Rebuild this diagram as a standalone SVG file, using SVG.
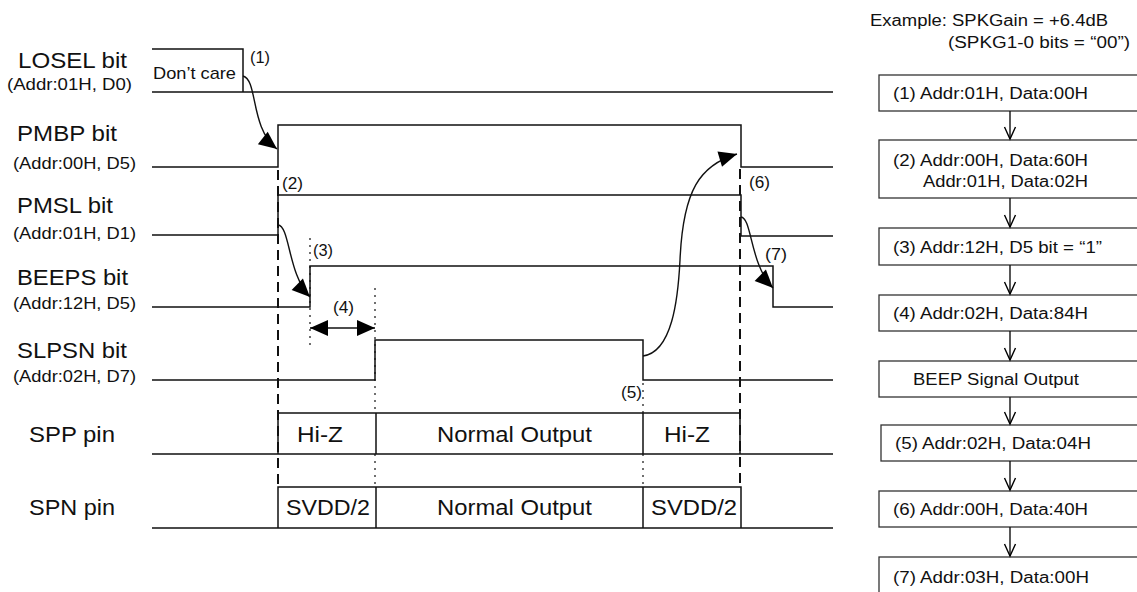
<svg xmlns="http://www.w3.org/2000/svg" width="1137" height="592" viewBox="0 0 1137 592">
<style>
text{font-family:"Liberation Sans",Arial,sans-serif;fill:#111}
.big{font-size:22px}
.sub{font-size:16px}
.num{font-size:16px}
.fc{font-size:16px}
.w{fill:none;stroke:#111;stroke-width:1.5}
.dash{fill:none;stroke:#111;stroke-width:2;stroke-dasharray:10 6}
.dot{fill:none;stroke:#111;stroke-width:1.2;stroke-dasharray:2 5}
.box{fill:#fff;stroke:#333;stroke-width:1.3}
.cur{fill:none;stroke:#111;stroke-width:1.4}
.farr{fill:none;stroke:#111;stroke-width:1.4}
</style>
<defs>
<marker id="ah" viewBox="0 0 18 16" refX="18" refY="8" markerWidth="18" markerHeight="16" markerUnits="userSpaceOnUse" orient="auto-start-reverse" overflow="visible"><path d="M0,0 L18,8 L0,16 z" fill="#000"/></marker>
<marker id="va" viewBox="0 0 12 12" refX="12" refY="6" markerWidth="12" markerHeight="12" markerUnits="userSpaceOnUse" orient="auto" overflow="visible"><path d="M0,0.5 L12,6 L0,11.5" fill="none" stroke="#000" stroke-width="1.4"/></marker>
</defs>
<rect width="1137" height="592" fill="#fff"/>

<g id="labels">
<text class="big" x="18" y="68" textLength="109" lengthAdjust="spacingAndGlyphs">LOSEL bit</text>
<text class="sub" x="7" y="90" textLength="125" lengthAdjust="spacingAndGlyphs">(Addr:01H, D0)</text>
<text class="big" x="17" y="141" textLength="100" lengthAdjust="spacingAndGlyphs">PMBP bit</text>
<text class="sub" x="13" y="169" textLength="123" lengthAdjust="spacingAndGlyphs">(Addr:00H, D5)</text>
<text class="big" x="17" y="213" textLength="96" lengthAdjust="spacingAndGlyphs">PMSL bit</text>
<text class="sub" x="13" y="239" textLength="123" lengthAdjust="spacingAndGlyphs">(Addr:01H, D1)</text>
<text class="big" x="17" y="285" textLength="111" lengthAdjust="spacingAndGlyphs">BEEPS bit</text>
<text class="sub" x="13" y="309" textLength="123" lengthAdjust="spacingAndGlyphs">(Addr:12H, D5)</text>
<text class="big" x="17" y="358" textLength="110" lengthAdjust="spacingAndGlyphs">SLPSN bit</text>
<text class="sub" x="13" y="382" textLength="123" lengthAdjust="spacingAndGlyphs">(Addr:02H, D7)</text>
<text class="big" x="29" y="442" textLength="86" lengthAdjust="spacingAndGlyphs">SPP pin</text>
<text class="big" x="29" y="515" textLength="86" lengthAdjust="spacingAndGlyphs">SPN pin</text>
</g>

<g id="losel">
<path class="w" d="M152,49 H243 V92 M152,92 H833"/>
<text x="153" y="79" font-size="17" textLength="83" lengthAdjust="spacingAndGlyphs">Don’t care</text>
</g>
<g id="pmbp"><path class="w" d="M152,167 H278 V125 H741 V167 H833"/></g>
<g id="pmsl"><path class="w" d="M152,235 H278 V195 H741 V236 H833"/></g>
<g id="beeps"><path class="w" d="M152,307 H310 V266 H773 V307 H833"/></g>
<g id="slpsn"><path class="w" d="M152,380 H375 V340 H643 V380 H833"/></g>
<g id="spp">
<path class="w" d="M152,454 H833 M278,454 V413 H740 V454 M376,413 V454 M643,413 V454"/>
<text class="big" x="297" y="442" textLength="46" lengthAdjust="spacingAndGlyphs">Hi-Z</text>
<text class="big" x="437" y="442" textLength="155" lengthAdjust="spacingAndGlyphs">Normal Output</text>
<text class="big" x="664" y="442" textLength="46" lengthAdjust="spacingAndGlyphs">Hi-Z</text>
</g>
<g id="spn">
<path class="w" d="M152,528 H833 M278,528 V487 H741 V528 M376,487 V528 M643,487 V528"/>
<text class="big" x="286" y="515" textLength="84" lengthAdjust="spacingAndGlyphs">SVDD/2</text>
<text class="big" x="437" y="515" textLength="155" lengthAdjust="spacingAndGlyphs">Normal Output</text>
<text class="big" x="651" y="515" textLength="86" lengthAdjust="spacingAndGlyphs">SVDD/2</text>
</g>

<g id="guides">
<path class="dash" d="M278,170 V487 M740,169 V487"/>
<path class="dot" d="M310,238 V350 M375,288 V413 M375,454 V487 M643,383 V413 M643,454 V487"/>
</g>

<g id="step-labels">
<text class="num" x="250" y="63" textLength="20" lengthAdjust="spacingAndGlyphs">(1)</text>
<text class="num" x="282" y="189" textLength="21" lengthAdjust="spacingAndGlyphs">(2)</text>
<text class="num" x="313" y="256" textLength="20" lengthAdjust="spacingAndGlyphs">(3)</text>
<text class="num" x="333" y="313" textLength="21" lengthAdjust="spacingAndGlyphs">(4)</text>
<text class="num" x="621" y="398" textLength="21" lengthAdjust="spacingAndGlyphs">(5)</text>
<text class="num" x="749" y="188" textLength="21" lengthAdjust="spacingAndGlyphs">(6)</text>
<text class="num" x="765" y="260" textLength="22" lengthAdjust="spacingAndGlyphs">(7)</text>
</g>

<g id="flow-title">
<text class="fc" x="870" y="26" textLength="238" lengthAdjust="spacingAndGlyphs">Example: SPKGain = +6.4dB</text>
<text class="fc" x="948" y="48" textLength="182" lengthAdjust="spacingAndGlyphs">(SPKG1-0 bits = “00”)</text>
</g>
<g id="step1"><rect class="box" x="879" y="75" width="270" height="36"/><text class="fc" x="893" y="99" textLength="195" lengthAdjust="spacingAndGlyphs">(1) Addr:01H, Data:00H</text></g>
<g id="step2"><rect class="box" x="879" y="140" width="270" height="58"/><text class="fc" x="893" y="166" textLength="195" lengthAdjust="spacingAndGlyphs">(2) Addr:00H, Data:60H</text><text class="fc" x="923" y="187" textLength="165" lengthAdjust="spacingAndGlyphs">Addr:01H, Data:02H</text></g>
<g id="step3"><rect class="box" x="879" y="228" width="270" height="37"/><text class="fc" x="893" y="253" textLength="209" lengthAdjust="spacingAndGlyphs">(3) Addr:12H, D5 bit = “1”</text></g>
<g id="step4"><rect class="box" x="879" y="295" width="270" height="36"/><text class="fc" x="893" y="319" textLength="195" lengthAdjust="spacingAndGlyphs">(4) Addr:02H, Data:84H</text></g>
<g id="beep"><rect class="box" x="879" y="361" width="270" height="36"/><text class="fc" x="913" y="385" textLength="166" lengthAdjust="spacingAndGlyphs">BEEP Signal Output</text></g>
<g id="step5"><rect class="box" x="881" y="425" width="270" height="36"/><text class="fc" x="895" y="449" textLength="196" lengthAdjust="spacingAndGlyphs">(5) Addr:02H, Data:04H</text></g>
<g id="step6"><rect class="box" x="879" y="491" width="270" height="36"/><text class="fc" x="893" y="515" textLength="195" lengthAdjust="spacingAndGlyphs">(6) Addr:00H, Data:40H</text></g>
<g id="step7"><rect class="box" x="879" y="557" width="270" height="60"/><text class="fc" x="893" y="583" textLength="196" lengthAdjust="spacingAndGlyphs">(7) Addr:03H, Data:00H</text></g>

<g id="connectors">
<path class="cur" d="M243,76 C258,80 250,128 277,149" marker-end="url(#ah)"/>
<path class="cur" d="M278,225 C290,226 288,275 310,297" marker-end="url(#ah)"/>
<path class="cur" d="M310,328 H375" marker-start="url(#ah)" marker-end="url(#ah)"/>
<path class="cur" d="M643,356 C672,352 678,300 680,260 C683,190 700,165 737,154" marker-end="url(#ah)"/>
<path class="cur" d="M741,217 C752,218 750,265 773,288" marker-end="url(#ah)"/>
<path class="farr" d="M1010,111 V139" marker-end="url(#va)"/>
<path class="farr" d="M1010,198 V227" marker-end="url(#va)"/>
<path class="farr" d="M1010,265 V294" marker-end="url(#va)"/>
<path class="farr" d="M1010,331 V360" marker-end="url(#va)"/>
<path class="farr" d="M1010,397 V424" marker-end="url(#va)"/>
<path class="farr" d="M1010,461 V490" marker-end="url(#va)"/>
<path class="farr" d="M1010,527 V556" marker-end="url(#va)"/>
</g>
</svg>
